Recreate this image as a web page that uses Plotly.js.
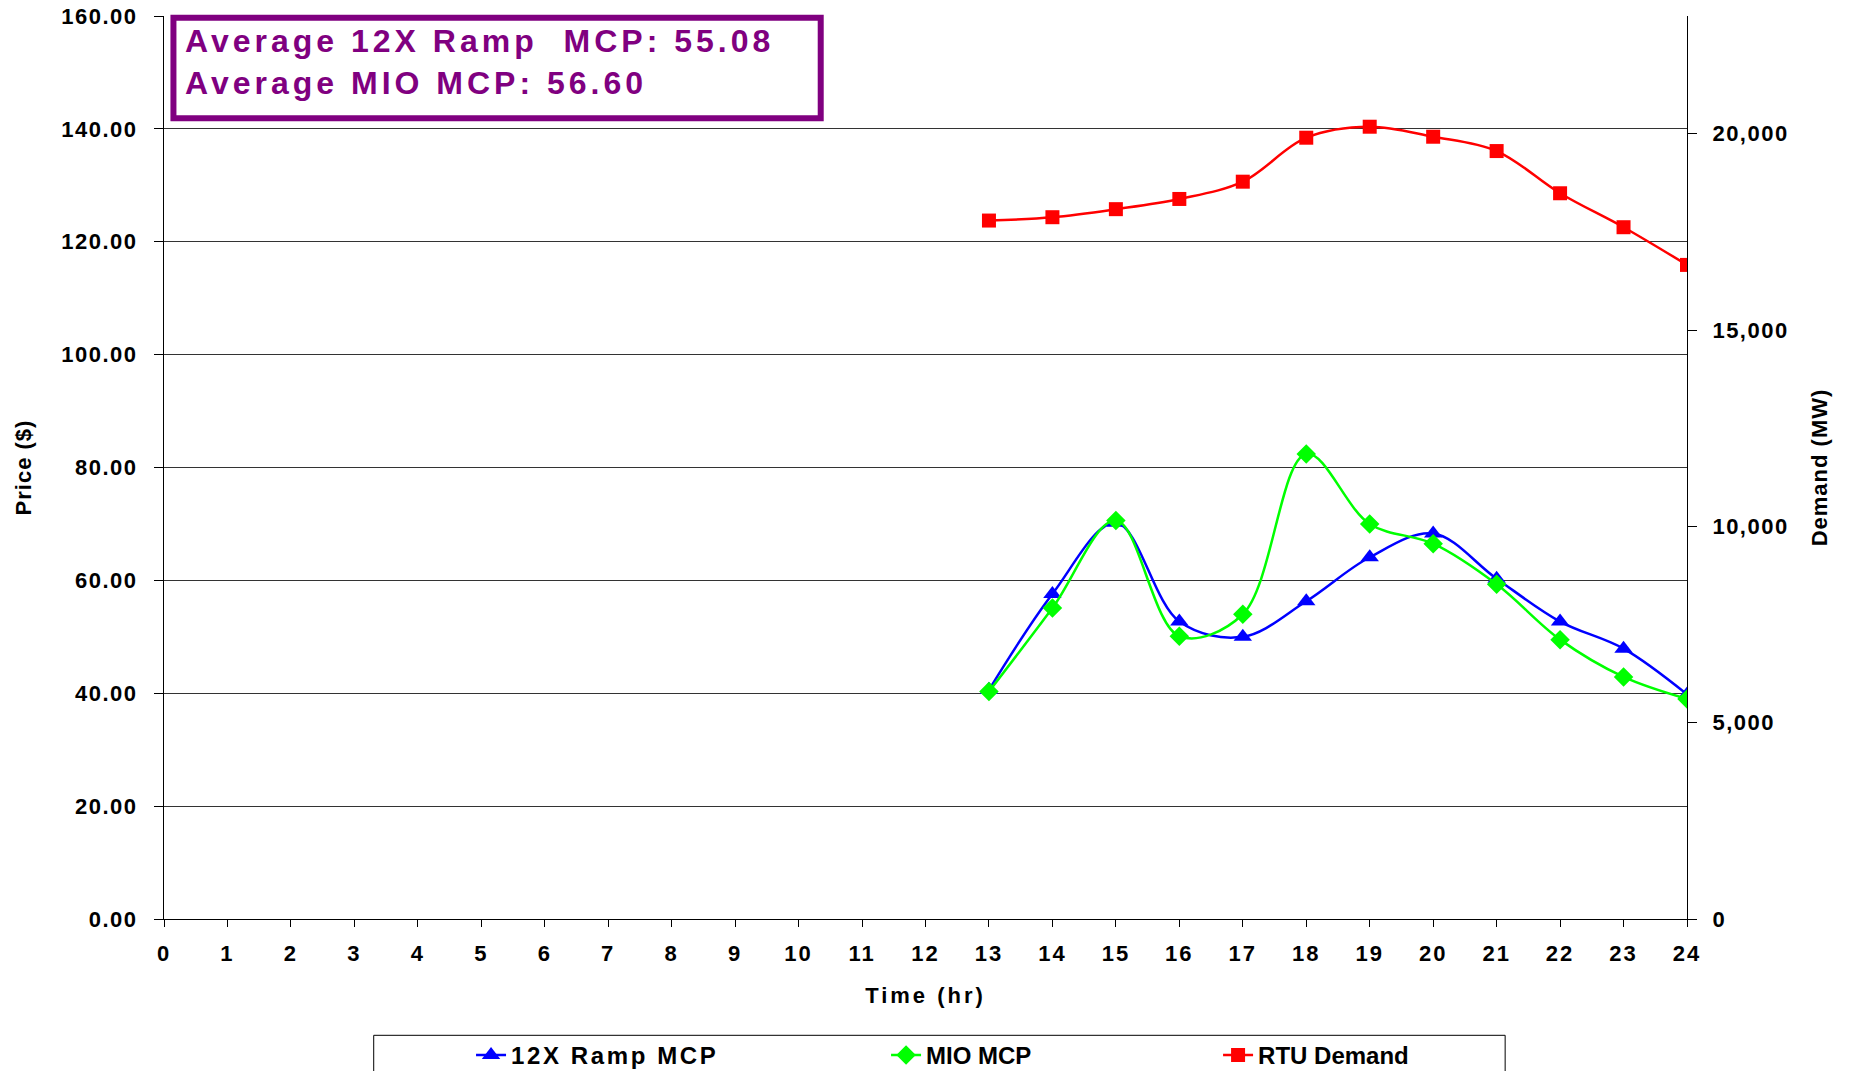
<!DOCTYPE html>
<html>
<head>
<meta charset="utf-8">
<script src="https://cdn.plot.ly/plotly-3.0.1.min.js"></script>
<style>
  html, body { margin: 0; padding: 0; background: #fff; }
  #chart { width: 1849px; height: 1071px; }
  .xtick text { letter-spacing: 2px; }
  .ytick text, .y2tick text { letter-spacing: 1.5px; }
  .annotation-text { letter-spacing: 4px; }
  .legendtext { letter-spacing: 2.6px; }
  .g-xtitle text { letter-spacing: 3px; }
  .g-ytitle text, .g-y2title text { letter-spacing: 1px; }
</style>
</head>
<body>
<div id="chart"></div>
<script>
// ---- data ----
const hours = [13, 14, 15, 16, 17, 18, 19, 20, 21, 22, 23, 24];
const rampMCP = [40.6, 57.6, 70.2, 52.7, 50.0, 56.3, 64.1, 68.3, 60.3, 52.7, 47.9, 39.8];
const mioMCP = [40.3, 55.1, 70.6, 50.1, 54.0, 82.4, 70.0, 66.5, 59.3, 49.5, 42.9, 39.0];
const rtuDemand = [17790, 17875, 18080, 18340, 18780, 19900, 20180, 19925, 19560, 18485, 17620, 16660];
const seriesNames = ['12X Ramp MCP', 'MIO MCP', 'RTU Demand'];
const annotationLines = ['Average 12X Ramp\u00a0\u00a0MCP: 55.08', 'Average MIO MCP: 56.60'];

const FONT = 'Liberation Sans, Arial, sans-serif';
const bold = (size, color) => ({ family: FONT, size: size, color: color || '#000', weight: 'bold' });

const traces = [
  {
    x: hours, y: rampMCP, name: seriesNames[0], type: 'scatter', mode: 'lines+markers',
    line: { color: '#0000FF', width: 2.5, shape: 'spline', smoothing: 1 },
    marker: { symbol: 'triangle-up', size: 16, color: '#0000FF' },
    legend: 'legend'
  },
  {
    x: hours, y: mioMCP, name: seriesNames[1], type: 'scatter', mode: 'lines+markers',
    line: { color: '#00FF00', width: 2.5, shape: 'spline', smoothing: 1 },
    marker: { symbol: 'diamond', size: 15, color: '#00FF00' },
    legend: 'legend2'
  },
  {
    x: hours, y: rtuDemand, name: seriesNames[2], type: 'scatter', mode: 'lines+markers', yaxis: 'y2',
    line: { color: '#FF0000', width: 2.5, shape: 'spline', smoothing: 1 },
    marker: { symbol: 'square', size: 14, color: '#FF0000' },
    legend: 'legend3'
  }
];

const legendBase = {
  orientation: 'h', yanchor: 'middle', y: -0.151, xanchor: 'left',
  bgcolor: 'rgba(0,0,0,0)', borderwidth: 0, font: bold(24), itemwidth: 30
};

const layout = {
  width: 1849, height: 1071,
  margin: { l: 164, r: 162, t: 16, b: 152, pad: 0, autoexpand: false },
  paper_bgcolor: '#fff', plot_bgcolor: '#fff',
  showlegend: true,
  xaxis: {
    range: [0, 24], dtick: 1, tick0: 0,
    showline: true, linecolor: '#000', linewidth: 1,
    ticks: 'outside', ticklen: 7, tickcolor: '#000', tickwidth: 1,
    ticklabelstandoff: 8,
    showgrid: false, zeroline: false,
    tickfont: bold(22),
    title: { text: 'Time (hr)', font: bold(22), standoff: 22 }
  },
  yaxis: {
    range: [0, 160], dtick: 20, tick0: 0, tickformat: '.2f',
    showline: true, linecolor: '#000', linewidth: 1,
    ticks: 'outside', ticklen: 9, tickcolor: '#000', tickwidth: 1,
    ticklabelstandoff: 12,
    showgrid: true, gridcolor: '#333333', gridwidth: 1,
    zeroline: false,
    tickfont: bold(22),
    title: { text: 'Price ($)', font: bold(22), standoff: 23 }
  },
  yaxis2: {
    range: [0, 23000], dtick: 5000, tick0: 0, tickformat: ',d',
    overlaying: 'y', side: 'right',
    showline: true, linecolor: '#000', linewidth: 1,
    ticks: 'outside', ticklen: 9, tickcolor: '#000', tickwidth: 1,
    ticklabelstandoff: 11,
    showgrid: false, zeroline: false,
    tickfont: bold(22),
    title: { text: 'Demand (MW)', font: bold(22), standoff: 23 }
  },
  yaxis3: {
    range: [0, 23000], dtick: 5000, tick0: 0,
    overlaying: 'y', side: 'right', anchor: 'x',
    showline: false, showticklabels: false,
    ticks: 'inside', ticklen: 9, tickcolor: '#000', tickwidth: 1,
    showgrid: false, zeroline: false
  },
  legend: Object.assign({}, legendBase, { x: 0.2016 }),
  legend2: Object.assign({}, legendBase, { x: 0.4741 }),
  legend3: Object.assign({}, legendBase, { x: 0.6921 }),
  shapes: [
    { // annotation frame
      type: 'rect', xref: 'paper', yref: 'paper', layer: 'above',
      x0: 0.0062, x1: 0.4312, y0: 0.8867, y1: 0.998,
      line: { color: '#800080', width: 6 }, fillcolor: 'rgba(255,255,255,0)'
    },
    { // legend frame
      type: 'rect', xref: 'paper', yref: 'paper', layer: 'above',
      x0: 0.1377, x1: 0.8806, y0: -0.22, y1: -0.1288,
      line: { color: '#000', width: 1 }, fillcolor: 'rgba(255,255,255,0)'
    }
  ],
  annotations: [
    {
      xref: 'paper', yref: 'paper', x: 0.0125, y: 0.9487,
      xanchor: 'left', yanchor: 'middle', align: 'left', showarrow: false,
      text: annotationLines.join('<br>'),
      font: bold(32, '#800080')
    }
  ]
};

Plotly.newPlot('chart', traces, layout, { displayModeBar: false, staticPlot: true });
</script>
</body>
</html>
